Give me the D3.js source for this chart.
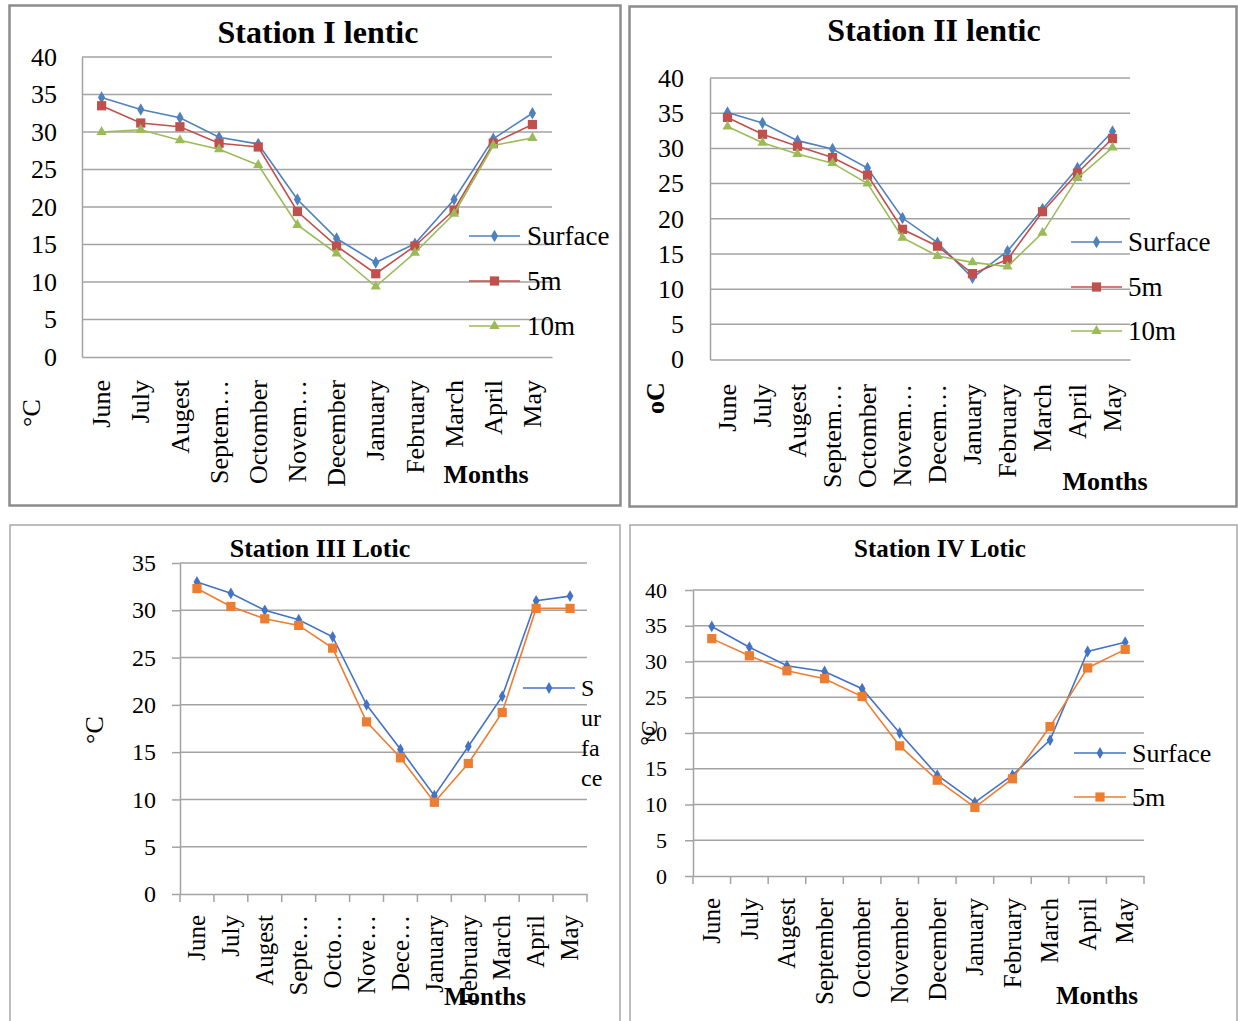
<!DOCTYPE html>
<html>
<head>
<meta charset="utf-8">
<script src="https://cdn.jsdelivr.net/npm/d3@7"></script>
<style>
  html, body { margin: 0; padding: 0; background: #fff; }
  svg { display: block; }
  text { font-family: "Liberation Serif", "Times New Roman", serif; fill: #000; }
</style>
</head>
<body>
<svg id="chart" width="1238" height="1021" font-family="Liberation Serif, serif"></svg>
<script>
// Monthly water temperature (°C) at four stations
const months = ["June","July","Augest","September","Octomber","November","December","January","February","March","April","May"];

const labelsI   = ["June","July","Augest","Septem…","Octomber","Novem…","December","January","February","March","April","May"];
const labelsII  = ["June","July","Augest","Septem…","Octomber","Novem…","Decem…","January","February","March","April","May"];
const labelsIII = ["June","July","Augest","Septe…","Octo…","Nove…","Dece…","January","February","March","April","May"];
const labelsIV  = ["June","July","Augest","September","Octomber","November","December","January","February","March","April","May"];

const ticks40 = [0,5,10,15,20,25,30,35,40];
const ticks35 = [0,5,10,15,20,25,30,35];

// Station I lentic
const st1Surface = [34.6,33.0,31.9,29.3,28.4,21.0,15.8,12.6,15.1,21.0,29.1,32.5];
const st1m5      = [33.5,31.2,30.7,28.5,28.0,19.4,14.8,11.1,14.8,19.6,28.5,31.0];
const st1m10     = [30.0,30.3,28.9,27.7,25.6,17.6,13.8,9.4,13.9,19.1,28.2,29.2];

// Station II lentic
const st2Surface = [35.1,33.6,31.1,29.9,27.2,20.1,16.6,11.6,15.4,21.4,27.2,32.4];
const st2m5      = [34.4,32.0,30.3,28.7,26.2,18.5,16.1,12.2,14.2,21.0,26.5,31.4];
const st2m10     = [33.1,30.8,29.2,27.9,25.0,17.3,14.7,13.8,13.2,18.0,25.8,30.1];

// Station III lotic
const st3Surface = [33.0,31.8,30.0,29.0,27.2,20.0,15.3,10.4,15.6,20.9,31.0,31.5];
const st3m5      = [32.3,30.4,29.1,28.4,26.0,18.2,14.4,9.7,13.8,19.2,30.2,30.2];

// Station IV lotic
const st4Surface = [34.9,32.0,29.4,28.6,26.2,20.0,14.1,10.3,14.1,19.0,31.4,32.7];
const st4m5      = [33.2,30.8,28.7,27.6,25.1,18.2,13.4,9.6,13.6,20.9,29.1,31.7];

const svg = d3.select("#chart");
const GRID = "#a3a3a3";
const SERIF = '"Liberation Serif", "Times New Roman", serif';

function drawPanel(p) {
  const g = svg.append("g");

  // frame
  g.append("rect")
    .attr("x", p.frame[0]).attr("y", p.frame[1])
    .attr("width", p.frame[2]).attr("height", p.frame[3])
    .attr("fill", "#fff").attr("stroke", p.frameColor).attr("stroke-width", p.frameWidth);

  const x = d3.scaleBand().domain(months).range([p.left, p.right]);
  const y = d3.scaleLinear().domain([0, p.yMax]).range([p.bottom, p.top]);
  const cx = m => x(m) + x.bandwidth() / 2;

  // horizontal gridlines
  g.append("g").selectAll("line").data(p.yTicks.filter(v => v > 0)).join("line")
    .attr("x1", p.left).attr("x2", p.right)
    .attr("y1", d => y(d)).attr("y2", d => y(d))
    .attr("stroke", GRID).attr("stroke-width", 1.5);

  // y axis
  const yAxis = g.append("g").attr("transform", `translate(${p.left},0)`)
    .call(d3.axisLeft(y).tickValues(p.yTicks).tickSizeInner(p.yTickLen).tickSizeOuter(0)
      .tickPadding(p.left - p.tickEnd - p.yTickLen))
    .attr("font-family", SERIF);
  yAxis.select(".domain").attr("stroke", GRID).attr("stroke-width", 1.5);
  yAxis.selectAll(".tick line").attr("stroke", GRID).attr("stroke-width", 1.5);
  yAxis.selectAll(".tick text")
    .style("font-family", SERIF).style("font-size", p.tickFs + "px");

  // x axis with rotated month labels
  const xAxis = g.append("g").attr("transform", `translate(0,${p.bottom})`)
    .call(d3.axisBottom(x).tickFormat((d, i) => p.labels[i]).tickSize(0))
    .attr("font-family", SERIF);
  xAxis.select(".domain").attr("stroke", GRID).attr("stroke-width", 1.5);
  xAxis.selectAll(".tick text")
    .attr("transform", "rotate(-90)")
    .attr("x", -(p.labelEnd - p.bottom)).attr("y", 0).attr("dy", "0.33em")
    .attr("text-anchor", "end")
    .style("font-family", SERIF).style("font-size", p.labelFs + "px");

  if (p.xTicks) {
    const bounds = months.map(m => x(m)).concat([p.right]);
    g.append("g").selectAll("line").data(bounds).join("line")
      .attr("x1", d => d).attr("x2", d => d)
      .attr("y1", p.bottom).attr("y2", p.bottom + 8)
      .attr("stroke", GRID).attr("stroke-width", 1.5);
  }

  // series
  p.series.forEach(s => {
    const pts = months.map((m, i) => [cx(m), y(s.values[i])]);
    g.append("path").attr("d", d3.line()(pts))
      .attr("fill", "none").attr("stroke", s.color).attr("stroke-width", 1.6);
    g.append("g").selectAll("path").data(pts).join("path")
      .attr("transform", d => `translate(${d[0]},${d[1]})`)
      .attr("d", d3.symbol().type(s.symbol).size(s.size)())
      .attr("fill", s.color);
  });

  // legend
  p.series.forEach((s, i) => {
    if (i >= p.legendY.length) return;
    const ly = p.legendY[i];
    g.append("line").attr("x1", p.legendX[0]).attr("x2", p.legendX[1])
      .attr("y1", ly).attr("y2", ly).attr("stroke", s.color).attr("stroke-width", 1.6);
    g.append("path")
      .attr("transform", `translate(${(p.legendX[0] + p.legendX[1]) / 2},${ly})`)
      .attr("d", d3.symbol().type(s.symbol).size(s.size)()).attr("fill", s.color);
    const t = g.append("text").attr("x", p.legendX[2]).attr("y", ly)
      .attr("dy", "0.35em").style("font-family", SERIF).style("font-size", p.legendFs + "px");
    if (p.legendWrap) {
      p.legendWrap.forEach((part, k) => {
        t.append("tspan").attr("x", p.legendX[2]).attr("dy", k === 0 ? "0.35em" : p.legendWrapStep + "px").text(part);
      });
    } else {
      t.text(s.name);
    }
  });

  // title
  g.append("text").attr("x", p.title[0]).attr("y", p.title[1])
    .attr("text-anchor", "middle").style("font-weight", "bold").style("font-family", SERIF)
    .style("font-size", p.titleFs + "px").text(p.titleText);

  // y axis title
  g.append("text")
    .attr("transform", `translate(${p.yTitle[0]},${p.yTitle[1]}) rotate(-90)`)
    .attr("text-anchor", "middle").attr("dy", "0.35em").style("font-family", SERIF)
    .style("font-size", p.yTitleFs + "px").style("font-weight", p.yTitleBold ? "bold" : "normal")
    .text(p.yTitleText);

  // x axis title
  g.append("text").attr("x", p.xTitle[0]).attr("y", p.xTitle[1])
    .attr("text-anchor", "middle").style("font-weight", "bold").style("font-family", SERIF)
    .style("font-size", p.xTitleFs + "px").text("Months");
}

const lentic = { blue: "#4F81BD", red: "#C0504D", green: "#9BBB59" };
const lotic = { blue: "#4472C4", orange: "#ED7D31" };

drawPanel({
  frame: [9.5, 5.5, 611, 500], frameColor: "#8c8c8c", frameWidth: 2.5,
  left: 82, right: 552, top: 57, bottom: 357, yMax: 40, yTicks: ticks40, yTickLen: 0,
  tickEnd: 57, tickFs: 26, labels: labelsI, labelEnd: 380, labelFs: 26, xTicks: false,
  series: [
    { name: "Surface", values: st1Surface, color: lentic.blue, symbol: d3.symbolDiamond, size: 45 },
    { name: "5m", values: st1m5, color: lentic.red, symbol: d3.symbolSquare, size: 85 },
    { name: "10m", values: st1m10, color: lentic.green, symbol: d3.symbolTriangle, size: 45 }
  ],
  legendX: [469, 520, 527], legendY: [236, 281, 326], legendFs: 27,
  title: [318, 43], titleFs: 32, titleText: "Station I lentic",
  yTitle: [31, 413], yTitleFs: 26, yTitleBold: false, yTitleText: "°C",
  xTitle: [486, 483], xTitleFs: 26
});

drawPanel({
  frame: [629.5, 6.5, 607, 500], frameColor: "#8c8c8c", frameWidth: 2.5,
  left: 710, right: 1130, top: 78, bottom: 359.5, yMax: 40, yTicks: ticks40, yTickLen: 0,
  tickEnd: 684, tickFs: 26, labels: labelsII, labelEnd: 384, labelFs: 26, xTicks: false,
  series: [
    { name: "Surface", values: st2Surface, color: lentic.blue, symbol: d3.symbolDiamond, size: 45 },
    { name: "5m", values: st2m5, color: lentic.red, symbol: d3.symbolSquare, size: 85 },
    { name: "10m", values: st2m10, color: lentic.green, symbol: d3.symbolTriangle, size: 45 }
  ],
  legendX: [1071, 1122, 1128], legendY: [242, 287, 331], legendFs: 27,
  title: [934, 41], titleFs: 32, titleText: "Station II lentic",
  yTitle: [655, 398], yTitleFs: 26, yTitleBold: true, yTitleText: "oC",
  xTitle: [1105, 490], xTitleFs: 26
});

drawPanel({
  frame: [10, 525, 610, 510], frameColor: "#a8a8a8", frameWidth: 1.5,
  left: 180, right: 587, top: 563, bottom: 894, yMax: 35, yTicks: ticks35, yTickLen: 8,
  tickEnd: 156, tickFs: 24, labels: labelsIII, labelEnd: 915, labelFs: 25, xTicks: true,
  series: [
    { name: "Surface", values: st3Surface, color: lotic.blue, symbol: d3.symbolDiamond, size: 40 },
    { name: "5m", values: st3m5, color: lotic.orange, symbol: d3.symbolSquare, size: 85 }
  ],
  legendX: [523, 575, 581], legendY: [688], legendFs: 24,
  legendWrap: ["S", "ur", "fa", "ce"], legendWrapStep: 30,
  title: [320, 557], titleFs: 26, titleText: "Station III Lotic",
  yTitle: [94, 730], yTitleFs: 26, yTitleBold: false, yTitleText: "°C",
  xTitle: [485, 1005], xTitleFs: 25
});

drawPanel({
  frame: [630, 525, 607, 510], frameColor: "#a8a8a8", frameWidth: 1.5,
  left: 693, right: 1144, top: 590, bottom: 876, yMax: 40, yTicks: ticks40, yTickLen: 8,
  tickEnd: 667, tickFs: 22, labels: labelsIV, labelEnd: 898, labelFs: 25, xTicks: true,
  series: [
    { name: "Surface", values: st4Surface, color: lotic.blue, symbol: d3.symbolDiamond, size: 40 },
    { name: "5m", values: st4m5, color: lotic.orange, symbol: d3.symbolSquare, size: 85 }
  ],
  legendX: [1074, 1126, 1132], legendY: [753, 797], legendFs: 26,
  title: [940, 557], titleFs: 25, titleText: "Station IV Lotic",
  yTitle: [649, 733], yTitleFs: 24, yTitleBold: false, yTitleText: "°C",
  xTitle: [1097, 1004], xTitleFs: 25
});
</script>
</body>
</html>
